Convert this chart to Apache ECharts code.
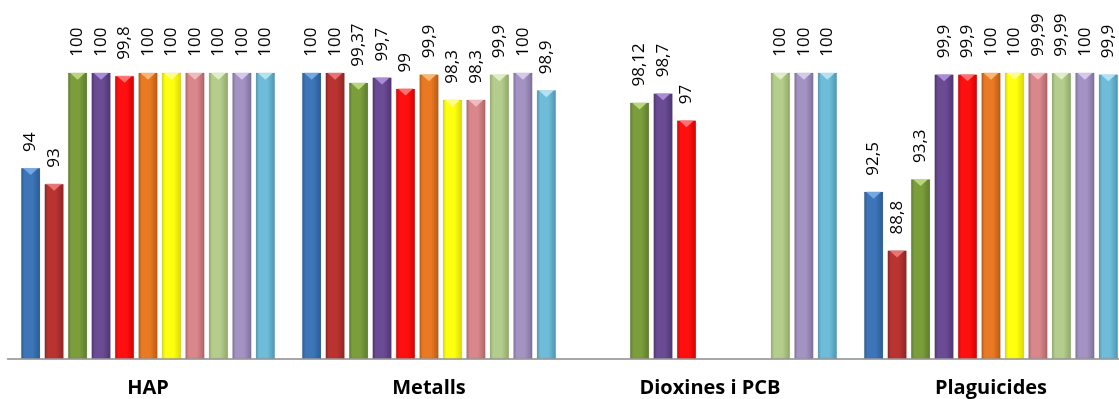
<!DOCTYPE html>
<html>
<head>
<meta charset="utf-8">
<script src="https://cdn.jsdelivr.net/npm/echarts@6/dist/echarts.min.js"></script>
<style>
  html, body { margin: 0; padding: 0; background: #ffffff; }
  #chart { width: 1119px; height: 399px; }
</style>
</head>
<body>
<div id="chart"></div>
<script>
// Categories on the x axis
var categories = ['HAP', 'Metalls', 'Dioxines i PCB', 'Plaguicides'];

// Removal percentages, one array per series (null = no value)
var s1  = [94,   100,   null,  92.5];
var s2  = [93,   100,   null,  88.8];
var s3  = [100,  99.37, 98.12, 93.3];
var s4  = [100,  99.7,  98.7,  99.9];
var s5  = [99.8, 99,    97,    99.9];
var s6  = [100,  99.9,  null,  100];
var s7  = [100,  98.3,  null,  100];
var s8  = [100,  98.3,  null,  99.99];
var s9  = [100,  99.9,  100,   99.99];
var s10 = [100,  100,   100,   100];
var s11 = [100,  98.9,  100,   99.9];

var seriesData = [s1, s2, s3, s4, s5, s6, s7, s8, s9, s10, s11];

// Fill colours: [edge, body, cap]
var palette = [
  ['#2a5a93', '#3c75b8', '#7fb0e8'],
  ['#8e2424', '#b93331', '#ee8080'],
  ['#5d7a2c', '#7b9d3b', '#c6e08a'],
  ['#4d3470', '#6a4b94', '#b59ae0'],
  ['#d40000', '#ff1010', '#ff8080'],
  ['#b95a12', '#e97a23', '#ffc080'],
  ['#d9d900', '#ffff10', '#ffff9a'],
  ['#ad6467', '#d9878b', '#f5c4c6'],
  ['#8ea667', '#b5cd8c', '#e6f3cf'],
  ['#7d6f9c', '#a393c3', '#ddd2f2'],
  ['#4a96b2', '#6fbcd9', '#bfe9f7']
];

var BAR_W = 19.4;
var BAR_GAP = '21%';

function fmt(v) { return String(v).replace('.', ','); }

var series = [];
seriesData.forEach(function (data, i) {
  var c = palette[i];
  series.push({
    type: 'bar',
    name: 'S' + (i + 1),
    data: data,
    barWidth: BAR_W,
    barGap: BAR_GAP,
    itemStyle: {
      color: {
        type: 'linear', x: 0, y: 0, x2: 1, y2: 0,
        colorStops: [
          { offset: 0, color: c[0] },
          { offset: 0.18, color: c[1] },
          { offset: 0.6, color: c[1] },
          { offset: 1, color: c[0] }
        ]
      },
      borderColor: 'rgba(0,0,0,0.12)',
      borderWidth: 0.8
    },
    label: {
      show: true,
      position: 'top',
      rotate: 90,
      align: 'left',
      verticalAlign: 'middle',
      distance: 16,
      color: '#000',
      fontFamily: 'Open Sans',
      fontSize: 17,
      formatter: function (p) { return fmt(p.value); }
    },
    z: 2
  });
});

// Bevelled caps on top of each bar
seriesData.forEach(function (data, i) {
  var c = palette[i];
  series.push({
    type: 'pictorialBar',
    data: data,
    barWidth: BAR_W,
    barGap: BAR_GAP,
    symbol: 'triangle',
    symbolRotate: 180,
    symbolSize: [BAR_W - 4, 7],
    symbolPosition: 'end',
    symbolOffset: [0, 0],
    itemStyle: { color: c[2], opacity: 0.85 },
    silent: true,
    z: 3
  });
});

var chart = echarts.init(document.getElementById('chart'));
chart.setOption({
  animation: false,
  grid: {
    left: 7.5, width: 1124, top: 72.7, bottom: 40.7,
    containLabel: false,
    outerBoundsMode: 'none'
  },
  xAxis: {
    type: 'category',
    data: categories,
    axisLine: { show: true, lineStyle: { color: '#8c8c8c', width: 1.5 } },
    axisTick: { show: false },
    axisLabel: {
      margin: 20,
      color: '#000',
      fontFamily: 'Open Sans',
      fontWeight: 'bold',
      fontSize: 20
    }
  },
  yAxis: {
    type: 'value',
    min: 82,
    max: 100,
    show: false,
    splitLine: { show: false }
  },
  series: series
});
</script>
</body>
</html>
